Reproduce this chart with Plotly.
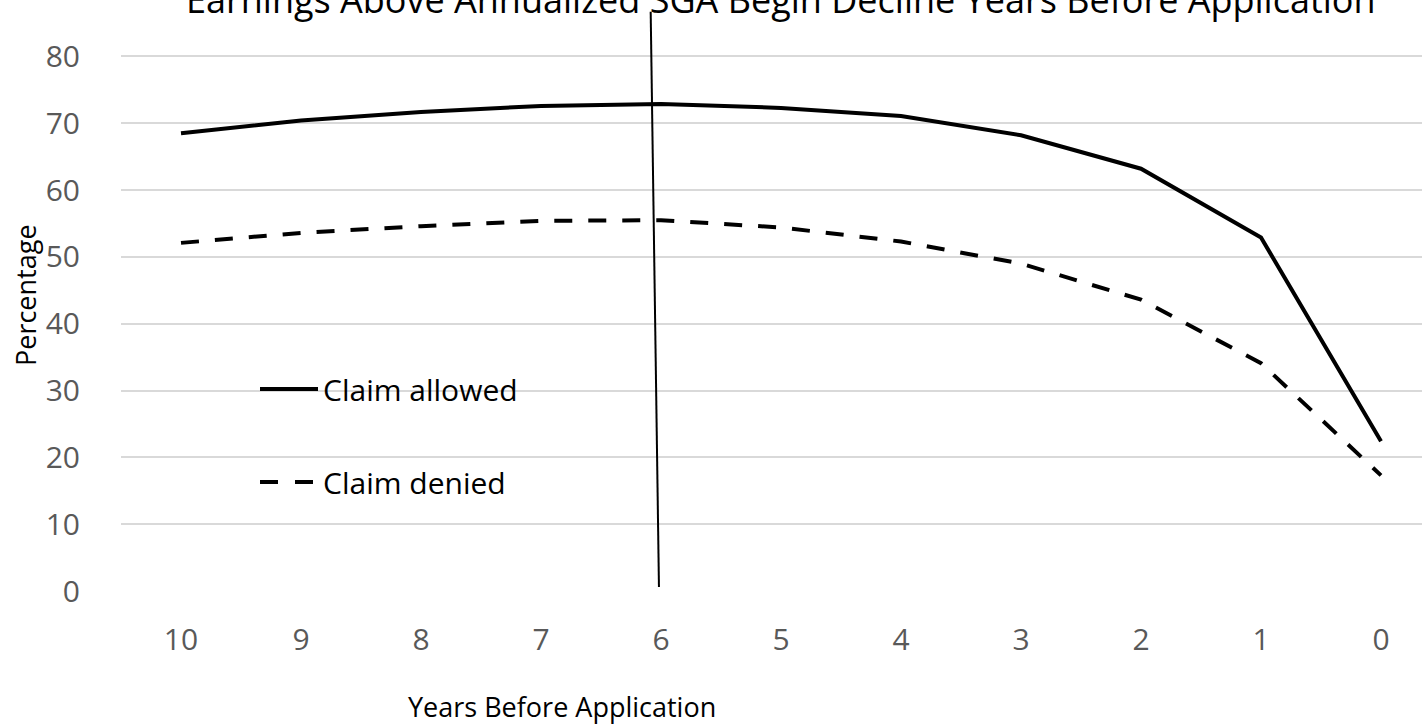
import plotly.graph_objects as go

years = [10, 9, 8, 7, 6, 5, 4, 3, 2, 1, 0]
claim_allowed = [68.5, 70.4, 71.7, 72.6, 72.9, 72.3, 71.1, 68.2, 63.2, 52.9, 22.4]
claim_denied = [52.1, 53.6, 54.6, 55.4, 55.5, 54.4, 52.3, 49.0, 43.6, 34.1, 17.3]
y_ticks = [0, 10, 20, 30, 40, 50, 60, 70, 80]

title_text = "Earnings Above Annualized SGA Begin Decline Years Before Application"
x_title = "Years Before Application"
y_title = "Percentage"
series_names = ["Claim allowed", "Claim denied"]

W, H = 1422, 725
L, R, T, B = 121, 0, 3, 134
PW, PH = W - L - R, H - T - B
FONT = "Open Sans"
FS = 30


def px(xp):
    return (xp - L) / PW


def py(yp):
    return (H - B - yp) / PH


xi = list(range(len(years)))

fig = go.Figure()
fig.add_trace(go.Scatter(x=xi, y=claim_allowed, mode="lines", name=series_names[0],
                         line=dict(color="black", width=4), showlegend=False))
fig.add_trace(go.Scatter(x=xi, y=claim_denied, mode="lines", name=series_names[1],
                         line=dict(color="black", width=4, dash="18px,16px"), showlegend=False))

# vertical marker line near year 6
fig.add_shape(type="line", xref="x", yref="y", x0=3.914, y0=86.7, x1=3.983, y1=0.6,
              line=dict(color="black", width=2))

# manual legend
fig.add_shape(type="line", xref="paper", yref="paper", x0=px(260), x1=px(318), y0=py(389), y1=py(389),
              line=dict(color="black", width=4))
fig.add_shape(type="line", xref="paper", yref="paper", x0=px(260), x1=px(278), y0=py(482), y1=py(482),
              line=dict(color="black", width=4))
fig.add_shape(type="line", xref="paper", yref="paper", x0=px(295), x1=px(313), y0=py(482), y1=py(482),
              line=dict(color="black", width=4))
fig.add_annotation(text=series_names[0], xref="paper", yref="paper", x=px(321), y=py(389),
                   xanchor="left", yanchor="middle", showarrow=False,
                   font=dict(family=FONT, size=FS, color="black"))
fig.add_annotation(text=series_names[1], xref="paper", yref="paper", x=px(321), y=py(482),
                   xanchor="left", yanchor="middle", showarrow=False,
                   font=dict(family=FONT, size=FS, color="black"))

# title (top part cut off by the image edge, as in the reference)
fig.add_annotation(text=title_text, xref="paper", yref="paper", x=px(781), y=py(26),
                   xanchor="center", yanchor="bottom", showarrow=False,
                   font=dict(family=FONT, size=36, color="black"))
# axis titles
fig.add_annotation(text=x_title, xref="paper", yref="paper", x=px(562), y=py(706),
                   xanchor="center", yanchor="middle", showarrow=False,
                   font=dict(family=FONT, size=27, color="black"))
fig.add_annotation(text=y_title, xref="paper", yref="paper", x=px(25), y=py(295),
                   xanchor="center", yanchor="middle", showarrow=False, textangle=-90,
                   font=dict(family=FONT, size=27, color="black"))

fig.update_xaxes(range=[-0.5, -0.5 + PW / 120.0], tickvals=xi, ticktext=[str(y) for y in years],
                 showgrid=False, zeroline=False, showline=False, ticks="",
                 tickfont=dict(family=FONT, size=FS, color="#595959"), ticklabelstandoff=28)
fig.update_yaxes(range=[0, 88], tickvals=y_ticks, showgrid=True, gridcolor="#d9d9d9", gridwidth=1.5,
                 zeroline=False, showline=False, ticks="",
                 tickfont=dict(family=FONT, size=FS, color="#595959"), ticklabelstandoff=40)

fig.update_layout(width=W, height=H, margin=dict(l=L, r=R, t=T, b=B, pad=0),
                  plot_bgcolor="white", paper_bgcolor="white", showlegend=False,
                  font=dict(family=FONT))

fig.write_html("out.html", config={"displayModeBar": False},
               post_script="document.body.style.margin='0';document.body.style.overflow='hidden';")
